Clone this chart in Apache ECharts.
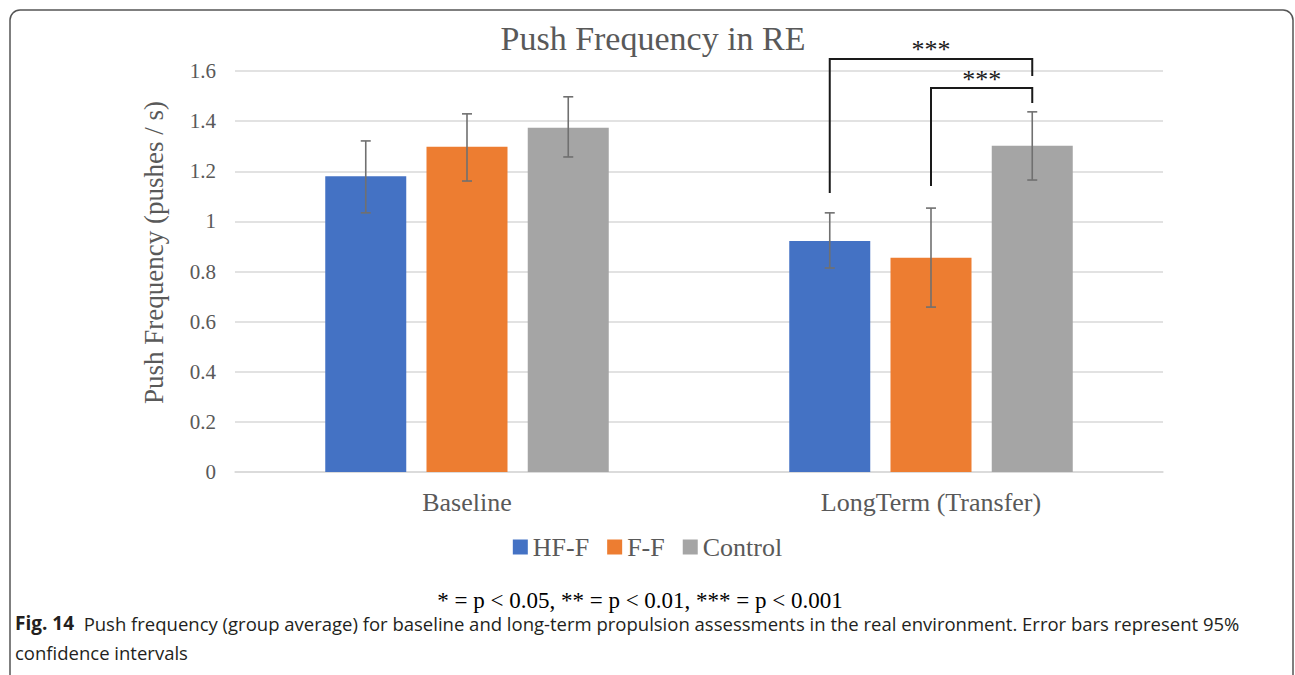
<!DOCTYPE html>
<html>
<head>
<meta charset="utf-8">
<script src="https://cdn.jsdelivr.net/npm/echarts@6/dist/echarts.min.js"></script>
<style>
  html, body { margin: 0; padding: 0; background: #fff; }
  #chart { width: 1295px; height: 675px; }
</style>
</head>
<body>
<div id="chart"></div>
<script>
// ---- data ----
const categories = ['Baseline', 'LongTerm (Transfer)'];
const seriesNames = ['HF-F', 'F-F', 'Control'];
const hffMean = [1.18, 0.922];
const ffMean = [1.298, 0.855];
const controlMean = [1.374, 1.302];
const hffLow = [1.034, 0.814];
const hffHigh = [1.321, 1.034];
const ffLow = [1.161, 0.658];
const ffHigh = [1.429, 1.053];
const controlLow = [1.257, 1.165];
const controlHigh = [1.497, 1.437];
const yTicks = { min: 0, max: 1.6, interval: 0.2 };
// significance brackets (category index, from series, to series, left end, right end, top)
const bracketCategory = [1, 1];
const bracketFrom = [0, 1];
const bracketTo = [2, 2];
const bracketLeftEnd = [1.113, 1.141];
const bracketRightEnd = [1.58, 1.472];
const bracketTop = [1.648, 1.532];
const bracketLabels = ['***', '***'];

const titleText = 'Push Frequency in RE';
const yAxisName = 'Push Frequency (pushes / s)';
const footnote = '* = p < 0.05, ** = p < 0.01, *** = p < 0.001';
const captionLabel = 'Fig. 14';
const captionLine1 = 'Push frequency (group average) for baseline and long-term propulsion assessments in the real environment. Error bars represent 95%';
const captionLine2 = 'confidence intervals';

// ---- layout / style ----
const colors = ['#4472C4', '#ED7D31', '#A5A5A5'];
const SERIF = '"Liberation Serif", "Times New Roman", serif';
const SANS = '"Open Sans", "Noto Sans", sans-serif';
const TXT = '#595959';
const BAR_W = 81;
const SLOT = BAR_W * 1.25;

const means = [hffMean, ffMean, controlMean];
const lows = [hffLow, ffLow, controlLow];
const highs = [hffHigh, ffHigh, controlHigh];

function slotX(api, cat, slot) {
  return api.coord([cat, 0])[0] + (slot - 1) * SLOT;
}

const barSeries = seriesNames.map((n, i) => ({
  name: n,
  type: 'bar',
  data: means[i],
  barWidth: BAR_W,
  barGap: '25%',
  itemStyle: { color: colors[i] },
  z: 2
}));

const errSeries = seriesNames.map((n, i) => ({
  name: 'err-' + n,
  type: 'custom',
  z: 5,
  silent: true,
  data: categories.map((c, k) => [k, lows[i][k], highs[i][k]]),
  encode: { x: 0, y: [1, 2] },
  renderItem: function (params, api) {
    const cat = api.value(0);
    const x = slotX(api, cat, i);
    const yl = api.coord([cat, api.value(1)])[1];
    const yh = api.coord([cat, api.value(2)])[1];
    const st = { stroke: '#707070', lineWidth: 1.6, fill: null };
    const h = 5;
    return {
      type: 'group',
      children: [
        { type: 'line', shape: { x1: x, y1: yl, x2: x, y2: yh }, style: st },
        { type: 'line', shape: { x1: x - h, y1: yl, x2: x + h, y2: yl }, style: st },
        { type: 'line', shape: { x1: x - h, y1: yh, x2: x + h, y2: yh }, style: st }
      ]
    };
  }
}));

const bracketSeries = {
  name: 'brackets',
  type: 'custom',
  z: 6,
  silent: true,
  clip: false,
  data: bracketLabels.map((l, k) => [bracketCategory[k], bracketFrom[k], bracketTo[k], bracketLeftEnd[k], bracketRightEnd[k], bracketTop[k]]),
  encode: { x: 0, y: 5 },
  renderItem: function (params, api) {
    const cat = api.value(0);
    const x1 = slotX(api, cat, api.value(1));
    const x2 = slotX(api, cat, api.value(2));
    const yL = api.coord([cat, api.value(3)])[1];
    const yR = api.coord([cat, api.value(4)])[1];
    const yT = api.coord([cat, api.value(5)])[1];
    return {
      type: 'group',
      children: [
        { type: 'polyline', shape: { points: [[x1, yL], [x1, yT], [x2, yT], [x2, yR]] },
          style: { stroke: '#1a1a1a', lineWidth: 2, fill: null } },
        { type: 'text', x: (x1 + x2) / 2, y: yT - 9,
          style: { text: bracketLabels[params.dataIndex], fill: '#1a1a1a', font: '26px ' + SERIF,
                   align: 'center', verticalAlign: 'middle' } }
      ]
    };
  }
};

const chart = echarts.init(document.getElementById('chart'), null, { renderer: 'svg' });
chart.setOption({
  animation: false,
  backgroundColor: '#fff',
  grid: { left: 235, right: 132, top: 71, bottom: 203 },
  legend: {
    data: seriesNames,
    left: 'center',
    top: 529,
    itemWidth: 15,
    itemHeight: 15,
    itemGap: 18,
    icon: 'rect',
    textStyle: { fontFamily: SERIF, fontSize: 26, color: TXT }
  },
  xAxis: {
    type: 'category',
    data: categories,
    axisLine: { lineStyle: { color: '#D9D9D9', width: 1.5 } },
    axisTick: { show: false },
    axisLabel: { fontFamily: SERIF, fontSize: 26, color: TXT, margin: 17 }
  },
  yAxis: {
    type: 'value',
    min: yTicks.min,
    max: yTicks.max,
    interval: yTicks.interval,
    name: yAxisName,
    nameLocation: 'middle',
    nameGap: 68,
    nameTextStyle: { fontFamily: SERIF, fontSize: 27, color: TXT, padding: [0, 0, 0, 38] },
    axisLine: { show: false },
    axisTick: { show: false },
    splitLine: { lineStyle: { color: '#D9D9D9', width: 1.5 } },
    axisLabel: { fontFamily: SERIF, fontSize: 21, color: TXT, margin: 19 }
  },
  graphic: [
    { type: 'rect', shape: { x: 10, y: 10, width: 1283, height: 720, r: [10, 10, 0, 0] },
      style: { fill: null, stroke: '#555', lineWidth: 1.5 }, silent: true, z: 0 },
    { type: 'text', x: 653, y: 38,
      style: { text: titleText, font: '34px ' + SERIF, fill: TXT, align: 'center', verticalAlign: 'middle' } },
    { type: 'text', x: 640, y: 600,
      style: { text: footnote, font: '23px ' + SERIF, fill: '#000', align: 'center', verticalAlign: 'middle' } },
    { type: 'text', x: 15, y: 623,
      style: { text: '{b|' + captionLabel + '}  {r|' + captionLine1 + '}', fill: '#231f20',
               fontFamily: SANS, fontSize: 18.5,
               verticalAlign: 'middle', align: 'left',
               rich: {
                 b: { fontWeight: 'bold', fontFamily: SANS, fontSize: 19, fill: '#231f20' },
                 r: { fontFamily: SANS, fontSize: 18.5, fill: '#231f20' }
               } } },
    { type: 'text', x: 15, y: 652,
      style: { text: captionLine2, fill: '#231f20', fontFamily: SANS, fontSize: 18.5,
               verticalAlign: 'middle', align: 'left' } }
  ],
  series: [...barSeries, ...errSeries, bracketSeries]
});
</script>
</body>
</html>
